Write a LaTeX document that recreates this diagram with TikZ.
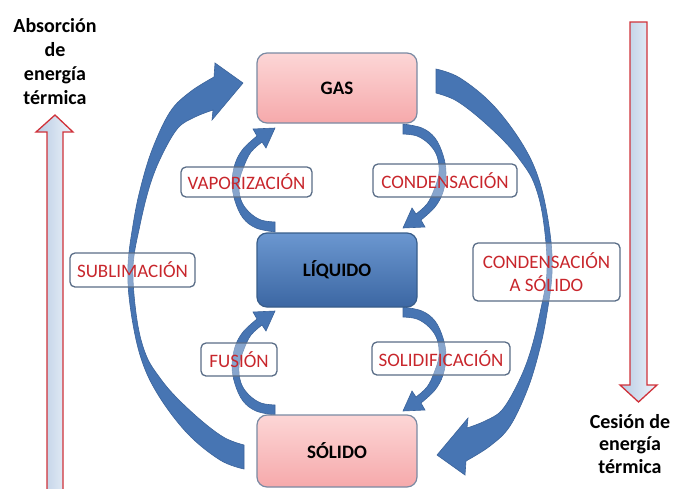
\documentclass[tikz,border=0pt]{standalone}
\usepackage{fontspec}
\setmainfont{Carlito}
\definecolor{arrblue}{HTML}{4775B3}
\definecolor{arrline}{HTML}{3B639A}
\definecolor{lbltxt}{HTML}{C8262C}
\definecolor{lblline}{HTML}{5A6D87}
\definecolor{pinktop}{HTML}{FCD6D6}
\definecolor{pinkbot}{HTML}{F6A9AB}
\definecolor{pinkline}{HTML}{7A8AA3}
\definecolor{bluetop}{HTML}{6B97D0}
\definecolor{bluebot}{HTML}{3C67A3}
\definecolor{blueline}{HTML}{385D8A}
\definecolor{sidea}{HTML}{B7CBE3}
\definecolor{sideb}{HTML}{EEF3FA}
\definecolor{sidered}{HTML}{D0323A}
\begin{document}
\begin{tikzpicture}[x=1pt,y=-1pt,
  blk/.style={fill=arrblue, draw=arrline, line width=0.6pt},
  stbox/.style={rounded corners=10pt, minimum width=160pt, inner sep=0pt,
    font=\bfseries\fontsize{19}{22}\selectfont, line width=1.2pt},
  pinkbox/.style={stbox, draw=pinkline, top color=pinktop, bottom color=pinkbot},
  bluebox/.style={stbox, draw=blueline, top color=bluetop, bottom color=bluebot},
  lbl/.style={draw=lblline, rounded corners=5pt, line width=1.3pt, text=lbltxt,
    font=\fontsize{19}{22}\selectfont, fill=white, fill opacity=0.35,
    text opacity=1, inner sep=0pt, align=center},
  sidearrow/.style={draw=sidered, line width=1.3pt, left color=sidea, right color=sideb},
  sidetext/.style={font=\bfseries\fontsize{20}{24}\selectfont, align=center, inner sep=0pt}
]
\useasboundingbox (0,0) rectangle (679,488);
\clip (0,0) rectangle (679,488);

% side arrows
\path[sidearrow] (47,495) -- (47,132) -- (36,132) -- (55,115) -- (73,132) -- (63,132) -- (63,495) -- cycle;
\path[sidearrow] (630,22) -- (630,385) -- (620,385) -- (638.5,402) -- (657,385) -- (647,385) -- (647,22) -- cycle;
\node[sidetext] (abs) at (55,62) {Absorción\\de\\energía\\térmica};
\node[sidetext, font=\bfseries\fontsize{20}{22.5}\selectfont] (ces) at (630,444) {Cesión de\\energía\\térmica};

% big curved arrows
\def\bigarrow{%
  \path[blk] (244,469) -- plot[smooth, tension=0.6] coordinates {(244,469) (220,460) (187,433) (157,393) (140,355) (130,305) (128,265) (133,225) (140,190) (152,150) (170,112) (190,92) (214,77)}
    -- (215,63) -- (243,83) -- (212,120) --
    plot[smooth, tension=0.6] coordinates {(213,110) (195,117) (178,128) (162,155) (150,185) (140,225) (133,268) (137,320) (146,355) (160,378) (177,398) (203,422) (225,438) (244,445)} -- cycle;}
\bigarrow
\begin{scope}[rotate around={180:(340,269)}]
\bigarrow
\end{scope}

% small curved arrows
\def\smallarrow{%
  \path[blk] (275,232) -- plot[smooth, tension=0.6] coordinates {(275,232) (256,228) (243,218) (235,201) (232,183) (235,164) (243,149) (257,136)}
    -- (253,129) -- (275,128) -- (266,148) --
    plot[smooth, tension=0.6] coordinates {(262,142) (251,152) (244,166) (239,183) (241,200) (249,212) (261,220) (275,222)} -- cycle;}
\smallarrow
\begin{scope}[rotate around={180:(339,178)}]
\smallarrow
\end{scope}
\begin{scope}[shift={(0,183)}]
\smallarrow
\begin{scope}[rotate around={180:(339,178)}]
\smallarrow
\end{scope}
\end{scope}

% state boxes
\node[pinkbox, minimum height=70pt] (gas) at (337,88) {GAS};
\node[bluebox, minimum height=74pt] (liq) at (337,270) {LÍQUIDO};
\node[pinkbox, minimum height=72pt] (sol) at (337,451) {SÓLIDO};

% labels
\node[lbl, minimum width=131pt, minimum height=30pt] (vap) at (246.5,182) {VAPORIZACIÓN};
\node[lbl, minimum width=144pt, minimum height=33pt] (cond) at (445,180.5) {CONDENSACIÓN};
\node[lbl, minimum width=125pt, minimum height=34pt] (subl) at (132.5,270) {SUBLIMACIÓN};
\node[lbl, minimum width=147pt, minimum height=58pt, font=\fontsize{19}{23}\selectfont] (cas) at (546.5,272) {CONDENSACIÓN\\A SÓLIDO};
\node[lbl, minimum width=76pt, minimum height=33pt] (fus) at (239,359.5) {FUSIÓN};
\node[lbl, minimum width=138pt, minimum height=33pt] (solid) at (441,358.5) {SOLIDIFICACIÓN};
\end{tikzpicture}
\end{document}
